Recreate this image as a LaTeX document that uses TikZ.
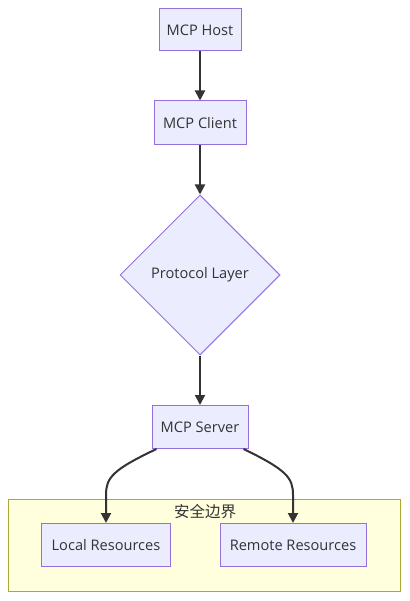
\documentclass[tikz,border=0pt]{standalone}
\usepackage{fontspec}
\setmainfont{Open Sans}
\newfontfamily\cjkfont{Noto Sans CJK SC}
\usetikzlibrary{arrows.meta,shapes.geometric,calc}
\definecolor{mmFill}{HTML}{ECECFF}
\definecolor{mmLine}{HTML}{9370DB}
\definecolor{mmEdge}{HTML}{333333}
\definecolor{mmZone}{HTML}{FFFFDE}
\definecolor{mmZoneLine}{HTML}{AAAA33}
\definecolor{mmText}{HTML}{333333}
\tikzset{
  >={Triangle[length=10pt,width=10pt]},
  box/.style={draw=mmLine, fill=mmFill, line width=1pt, text=mmText,
              inner sep=0pt, font=\fontsize{14.6}{17}\selectfont},
  gate/.style={diamond, draw=mmLine, fill=mmFill, line width=1pt, text=mmText,
              inner sep=0pt, minimum size=160pt, aspect=1,
              font=\fontsize{14.6}{17}\selectfont},
  zone/.style={draw=mmZoneLine, fill=mmZone, line width=1pt},
  flow/.style={->, draw=mmEdge, line width=2pt},
}
\begin{document}
\begin{tikzpicture}[x=1pt,y=-1pt]
        \useasboundingbox (0,0) rectangle (409,601);
        % security zone
        \draw[zone] (8,499) rectangle (400,591);
        \node[text=mmText,font=\cjkfont\fontsize{15.5}{18}\selectfont] (zlbl) at (205,512){安全边界};
        % main chain
        \node[box,minimum width=82pt,minimum height=42pt] (host) at (200,30){MCP Host};
        \node[box,minimum width=92pt,minimum height=44pt] (client) at (200,123){MCP Client};
        \node[gate] (proto) at (200,275){Protocol Layer};
        \node[box,minimum width=96pt,minimum height=43pt] (server) at (200,427){MCP Server};
        % resources
        \node[box,minimum width=129pt,minimum height=43pt] (local) at (106,545){Local Resources};
        \node[box,minimum width=146pt,minimum height=43pt] (remote) at (293,545){Remote Resources};
        \draw[flow] (host) -- (client);
        \draw[flow] (client) -- (proto);
        \draw[flow] (proto) -- (server);
        \draw[flow] ($(server.south west)+(5,0)$) .. controls (112,470) and (106,478) .. (106,495) -- (local.north);
        \draw[flow] ($(server.south east)+(-5,0)$) .. controls (287,470) and (293,478) .. (293,495) -- (remote.north);
      \end{tikzpicture}
\end{document}
